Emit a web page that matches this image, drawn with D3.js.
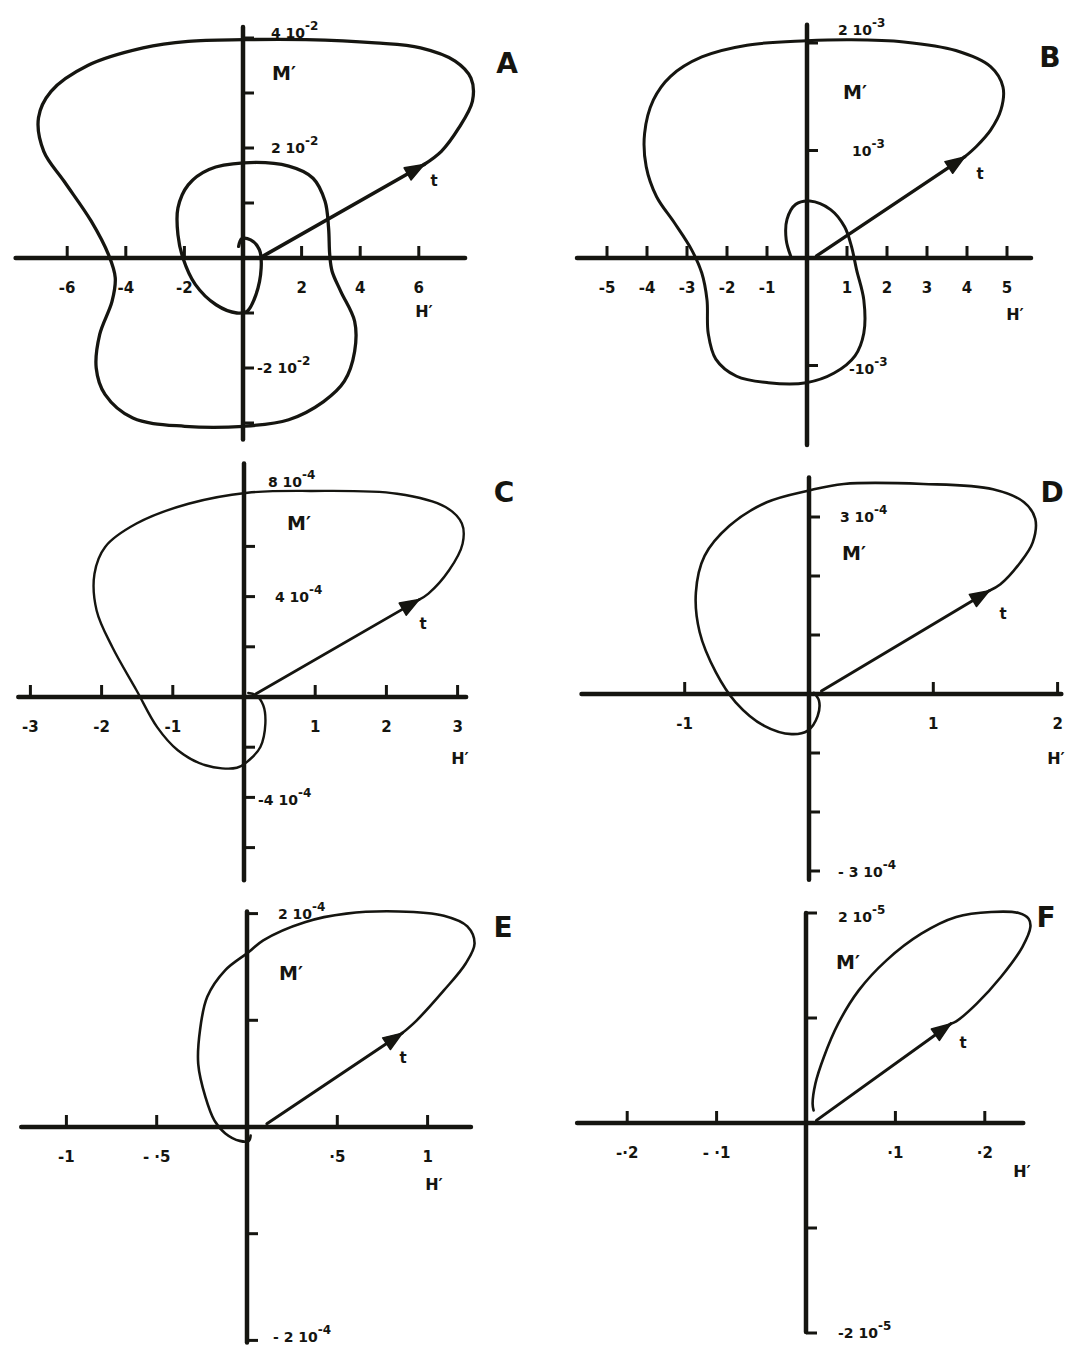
<!DOCTYPE html>
<html>
<head>
<meta charset="utf-8">
<script src="https://cdn.jsdelivr.net/npm/d3@7"></script>
<style>
  body { margin: 0; background: #ffffff; }
  svg text { font-family: "DejaVu Sans", "Liberation Sans", sans-serif; font-weight: bold; fill: #151510; }
</style>
</head>
<body>
<svg id="fig" width="1087" height="1349"></svg>
<script>
// ---------------------------------------------------------------
// Phase-plane trajectories M'(H'), six cases A–F.
// Each trace is a list of [H', M'] points; M' is in units of the
// panel's power of ten (A: 1e-2, B: 1e-3, C–E: 1e-4, F: 1e-5).
// Points 0→1 are the straight start along t (ending in the arrow),
// the remaining points are the smooth loop that follows.
// ---------------------------------------------------------------
const traceA = [
  [0.67,0.03],[6.18,1.70],[6.77,1.94],[7.36,2.36],[7.83,2.85],[7.78,3.27],[7.24,3.58],
  [6.06,3.82],[4.52,3.91],[2.15,3.97],[0.02,3.97],[-1.87,3.94],[-3.41,3.82],[-5.30,3.50],
  [-6.55,3.03],[-6.98,2.55],[-6.80,1.94],[-6.10,1.39],[-5.18,0.67],[-4.59,0.06],[-4.36,-0.36],
  [-4.47,-0.79],[-4.89,-1.39],[-5.01,-2.00],[-4.71,-2.48],[-3.76,-2.91],[-1.99,-3.06],
  [0.02,-3.06],[1.56,-2.94],[2.75,-2.61],[3.46,-2.24],[3.81,-1.70],[3.81,-1.15],[3.34,-0.61],
  [3.04,-0.24],[2.96,0.06],[2.92,0.55],[2.80,1.03],[2.39,1.45],[1.56,1.67],[0.02,1.73],
  [-1.16,1.61],[-1.87,1.33],[-2.22,0.91],[-2.22,0.42],[-2.05,0.00],[-1.63,-0.48],[-0.92,-0.85],
  [-0.21,-1.00],[0.14,-0.97],[0.44,-0.67],[0.62,-0.18],[0.56,0.15],[0.26,0.33],[-0.04,0.35],
  [-0.15,0.21]
];
const ticksA_H = [-6, -4, -2, 2, 4, 6];
const tickTextA_H = ["-6", "-4", "-2", "2", "4", "6"];
const ticksA_M = [-3, -2, -1, 1, 2, 3, 4];
const labelsA_M = [4, 2, -2];
const labelTextA_M = [["4 10", "-2"], ["2 10", "-2"], ["-2 10", "-2"]];

const traceB = [
  [0.24,0.02],[3.94,0.94],[4.24,1.04],[4.59,1.19],[4.85,1.38],[4.90,1.59],[4.59,1.78],
  [3.72,1.93],[2.42,2.01],[1.11,2.03],[-0.02,2.02],[-1.50,1.98],[-2.63,1.87],[-3.41,1.69],
  [-3.84,1.47],[-4.06,1.16],[-4.02,0.85],[-3.76,0.57],[-3.32,0.33],[-2.89,0.08],[-2.63,-0.14],
  [-2.50,-0.39],[-2.47,-0.70],[-2.28,-0.94],[-1.76,-1.10],[-0.97,-1.16],[-0.02,-1.16],
  [0.68,-1.07],[1.20,-0.91],[1.42,-0.70],[1.42,-0.39],[1.24,-0.11],[1.11,0.11],[0.94,0.29],
  [0.59,0.45],[0.07,0.53],[-0.28,0.50],[-0.50,0.36],[-0.52,0.17],[-0.41,0.02]
];
const ticksB_H = [-5, -4, -3, -2, -1, 1, 2, 3, 4, 5];
const tickTextB_H = ["-5", "-4", "-3", "-2", "-1", "1", "2", "3", "4", "5"];
const ticksB_M = [-1, 1, 2];
const labelsB_M = [2, 1, -1];
const labelTextB_M = [["2 10", "-3"], ["10", "-3"], ["-10", "-3"]];

const traceC = [
  [0.17,0.13],[2.46,3.88],[2.59,4.12],[2.88,5.05],[3.07,6.11],[3.06,6.91],[2.83,7.57],
  [2.15,8.10],[0.93,8.21],[0.05,8.14],[-0.78,7.70],[-1.51,6.91],[-1.95,5.98],[-2.10,4.91],
  [-2.07,3.45],[-1.85,1.99],[-1.51,0.27],[-1.22,-1.20],[-0.93,-2.12],[-0.54,-2.72],
  [-0.10,-2.82],[0.07,-2.52],[0.23,-1.99],[0.30,-1.06],[0.27,-0.33],[0.17,0.07],[0.06,0.16]
];
const ticksC_H = [-3, -2, -1, 1, 2, 3];
const tickTextC_H = ["-3", "-2", "-1", "1", "2", "3"];
const ticksC_M = [-6, -4, -2, 2, 4, 6];
const labelsC_M = [8, 4, -4];
const labelTextC_M = [["8 10", "-4"], ["4 10", "-4"], ["-4 10", "-4"]];

const traceD = [
  [0.10,0.05],[1.45,1.75],[1.54,1.86],[1.70,2.23],[1.80,2.57],[1.82,2.97],[1.73,3.25],
  [1.48,3.47],[0.92,3.56],[0.28,3.56],[0.00,3.45],[-0.34,3.25],[-0.64,2.85],[-0.84,2.34],
  [-0.91,1.72],[-0.88,1.05],[-0.75,0.37],[-0.59,-0.14],[-0.36,-0.54],[-0.14,-0.68],
  [-0.01,-0.62],[0.07,-0.37],[0.08,-0.11],[0.04,0.02]
];
const ticksD_H = [-1, 1, 2];
const tickTextD_H = ["-1", "1", "2"];
const ticksD_M = [-3, -2, -1, 1, 2, 3];
const labelsD_M = [3, -3];
const labelTextD_M = [["3 10", "-4"], ["- 3 10", "-4"]];

const traceE = [
  [0.11,0.03],[0.86,0.88],[0.94,1.00],[1.09,1.28],[1.21,1.53],[1.26,1.72],[1.22,1.88],
  [1.09,1.98],[0.84,2.02],[0.55,2.00],[0.32,1.92],[0.09,1.75],[0.01,1.64],[-0.12,1.47],
  [-0.22,1.22],[-0.26,0.91],[-0.27,0.59],[-0.23,0.28],[-0.18,0.06],[-0.12,-0.06],
  [-0.04,-0.13],[0.01,-0.13],[0.02,-0.08]
];
const ticksE_H = [-1, -0.5, 0.5, 1];
const tickTextE_H = ["-1", "- ·5", "·5", "1"];
const ticksE_M = [-2, -1, 1, 2];
const labelsE_M = [2, -2];
const labelTextE_M = [["2 10", "-4"], ["- 2 10", "-4"]];

const traceF = [
  [0.0117,0.025],[0.162,0.946],[0.168,0.968],[0.191,1.137],[0.218,1.390],[0.242,1.676],
  [0.251,1.867],[0.249,1.946],[0.238,2.000],[0.207,2.010],[0.168,1.962],[0.129,1.803],
  [0.090,1.549],[0.059,1.263],[0.036,0.946],[0.020,0.629],[0.0105,0.375],[0.0074,0.184],
  [0.0085,0.120]
];
const ticksF_H = [-0.2, -0.1, 0.1, 0.2];
const tickTextF_H = ["-·2", "- ·1", "·1", "·2"];
const ticksF_M = [-2, -1, 1, 2];
const labelsF_M = [2, -2];
const labelTextF_M = [["2 10", "-5"], ["-2 10", "-5"]];

// ---------------------------------------------------------------
// Panel geometry: origin in px, px per unit, axis extents (data units)
// and positions of the hand-lettered annotations.
// ---------------------------------------------------------------
const panels = [
  { name: "A", trace: traceA, xt: ticksA_H, xtt: tickTextA_H, yt: ticksA_M, yl: labelsA_M, ylt: labelTextA_M,
    ox: 243, oy: 258, kx: 29.3, ky: 55, xExt: [-7.76, 7.58], yExt: [4.2, -3.3],
    ylDx: [28, 28, 14], ylDy: [-5, 0, 0], curveW: 3.3,
    letter: [507, 63], mLab: [284, 73], hLab: [424, 310], tLab: [434, 180] },
  { name: "B", trace: traceB, xt: ticksB_H, xtt: tickTextB_H, yt: ticksB_M, yl: labelsB_M, ylt: labelTextB_M,
    ox: 807, oy: 258, kx: 40, ky: 107.5, xExt: [-5.75, 5.6], yExt: [2.17, -1.74],
    ylDx: [31, 45, 42], ylDy: [-13, 0, 3], curveW: 3.0,
    letter: [1050, 57], mLab: [855, 92], hLab: [1015, 313], tLab: [980, 173] },
  { name: "C", trace: traceC, xt: ticksC_H, xtt: tickTextC_H, yt: ticksC_M, yl: labelsC_M, ylt: labelTextC_M,
    ox: 244, oy: 697, kx: 71.2, ky: 25.1, xExt: [-3.17, 3.12], yExt: [9.3, -7.3],
    ylDx: [24, 31, 14], ylDy: [-14, 0, 3], curveW: 2.4,
    letter: [504, 492], mLab: [299, 523], hLab: [460, 757], tLab: [423, 623] },
  { name: "D", trace: traceD, xt: ticksD_H, xtt: tickTextD_H, yt: ticksD_M, yl: labelsD_M, ylt: labelTextD_M,
    ox: 809, oy: 694, kx: 124.3, ky: 59, xExt: [-1.83, 2.03], yExt: [3.67, -3.15],
    ylDx: [31, 29], ylDy: [0, 1], curveW: 2.6,
    letter: [1052, 492], mLab: [854, 553], hLab: [1056, 757], tLab: [1003, 613] },
  { name: "E", trace: traceE, xt: ticksE_H, xtt: tickTextE_H, yt: ticksE_M, yl: labelsE_M, ylt: labelTextE_M,
    ox: 247, oy: 1127, kx: 180.6, ky: 106.7, xExt: [-1.25, 1.24], yExt: [2.02, -2.02],
    ylDx: [31, 26], ylDy: [0, -3], curveW: 2.6,
    letter: [503, 927], mLab: [291, 973], hLab: [434, 1183], tLab: [403, 1057] },
  { name: "F", trace: traceF, xt: ticksF_H, xtt: tickTextF_H, yt: ticksF_M, yl: labelsF_M, ylt: labelTextF_M,
    ox: 806, oy: 1123, kx: 894, ky: 105, xExt: [-0.256, 0.243], yExt: [2.0, -1.99],
    ylDx: [32, 32], ylDy: [4, 0], curveW: 2.6,
    letter: [1046, 917], mLab: [848, 962], hLab: [1022, 1170], tLab: [963, 1042] }
];

const INK = "#151510";
const svg = d3.select("#fig");

panels.forEach(p => {
  const x = d3.scaleLinear().domain([0, 1]).range([p.ox, p.ox + p.kx]);
  const y = d3.scaleLinear().domain([0, 1]).range([p.oy, p.oy - p.ky]);
  const g = svg.append("g").attr("class", "panel-" + p.name);

  // axes through the origin
  g.append("line")
    .attr("x1", x(p.xExt[0])).attr("x2", x(p.xExt[1]))
    .attr("y1", y(0)).attr("y2", y(0))
    .attr("stroke", INK).attr("stroke-width", 4.5).attr("stroke-linecap", "round");
  g.append("line")
    .attr("x1", x(0)).attr("x2", x(0))
    .attr("y1", y(p.yExt[0])).attr("y2", y(p.yExt[1]))
    .attr("stroke", INK).attr("stroke-width", 4.5).attr("stroke-linecap", "round");

  // H' ticks: short strokes standing on the axis
  g.selectAll("line.xt").data(p.xt).join("line").attr("class", "xt")
    .attr("x1", d => x(d)).attr("x2", d => x(d))
    .attr("y1", y(0)).attr("y2", y(0) - 12)
    .attr("stroke", INK).attr("stroke-width", 3);
  g.selectAll("text.xtl").data(p.xt).join("text").attr("class", "xtl")
    .attr("x", d => x(d)).attr("y", y(0) + 35)
    .attr("text-anchor", "middle").attr("font-size", 15)
    .text((d, i) => p.xtt[i]);

  // M' ticks: short strokes to the right of the axis
  g.selectAll("line.yt").data(p.yt).join("line").attr("class", "yt")
    .attr("x1", x(0)).attr("x2", x(0) + 11)
    .attr("y1", d => y(d)).attr("y2", d => y(d))
    .attr("stroke", INK).attr("stroke-width", 3);

  // M' value labels, written as "n 10^e"
  p.yl.forEach((v, i) => {
    const t = g.append("text")
      .attr("x", x(0) + p.ylDx[i]).attr("y", y(v) + 5 + p.ylDy[i])
      .attr("font-size", 14);
    t.append("tspan").text(p.ylt[i][0]);
    t.append("tspan").attr("dy", -8).attr("font-size", 12).text(p.ylt[i][1]);
  });

  // trajectory: straight start along t, then the smooth loop
  const line = d3.line().x(d => x(d[0])).y(d => y(d[1]));
  const smooth = d3.line().x(d => x(d[0])).y(d => y(d[1])).curve(d3.curveCatmullRom.alpha(0.5));
  g.append("path").attr("d", line(p.trace.slice(0, 2)))
    .attr("fill", "none").attr("stroke", INK).attr("stroke-width", p.curveW + 0.4)
    .attr("stroke-linecap", "round");
  g.append("path").attr("d", smooth(p.trace.slice(1)))
    .attr("fill", "none").attr("stroke", INK).attr("stroke-width", p.curveW)
    .attr("stroke-linecap", "round").attr("stroke-linejoin", "round");

  // arrowhead at the end of the straight start
  const a = p.trace[0], b = p.trace[1];
  const ax = x(a[0]), ay = y(a[1]), bx = x(b[0]), by = y(b[1]);
  const len = Math.hypot(bx - ax, by - ay);
  const ux = (bx - ax) / len, uy = (by - ay) / len;
  const L = 19, W = 7;
  const pts = [[bx, by], [bx - L * ux - W * uy, by - L * uy + W * ux], [bx - L * ux + W * uy, by - L * uy - W * ux]];
  g.append("path").attr("d", "M" + pts.map(q => q.join(",")).join("L") + "Z")
    .attr("fill", INK).attr("stroke", INK).attr("stroke-width", 1.5).attr("stroke-linejoin", "round");

  // annotations
  g.append("text").attr("x", p.letter[0]).attr("y", p.letter[1] + 10)
    .attr("text-anchor", "middle").attr("font-size", 28).text(p.name);
  g.append("text").attr("x", p.mLab[0]).attr("y", p.mLab[1] + 7)
    .attr("text-anchor", "middle").attr("font-size", 19).text("M′");
  g.append("text").attr("x", p.hLab[0]).attr("y", p.hLab[1] + 7)
    .attr("text-anchor", "middle").attr("font-size", 16).text("H′");
  g.append("text").attr("x", p.tLab[0]).attr("y", p.tLab[1] + 6)
    .attr("text-anchor", "middle").attr("font-size", 15).text("t");
});
</script>
</body>
</html>
